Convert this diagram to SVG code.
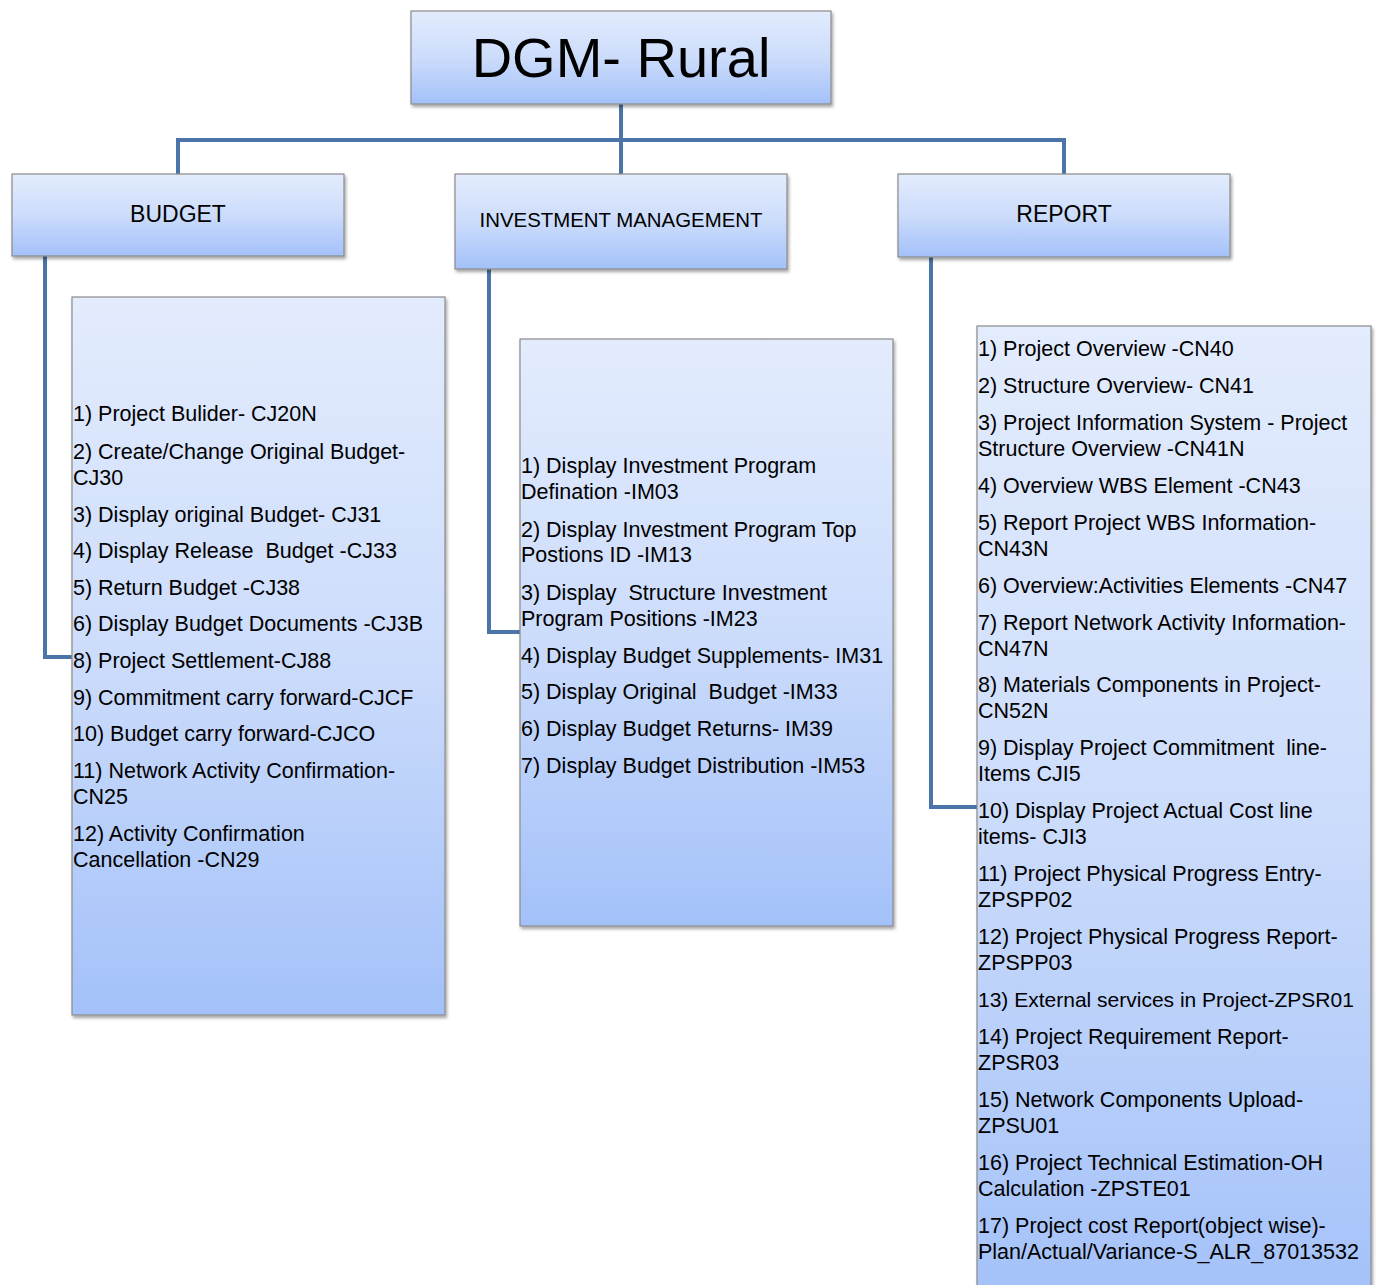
<svg xmlns="http://www.w3.org/2000/svg" width="1379" height="1285" viewBox="0 0 1379 1285">
<defs>
<linearGradient id="g" x1="0" y1="0" x2="0" y2="1">
<stop offset="0" stop-color="#e3ecfd"/>
<stop offset="0.5" stop-color="#ccdcfb"/>
<stop offset="1" stop-color="#a3c1f9"/>
</linearGradient>
<filter id="sh" x="-5%" y="-5%" width="110%" height="115%">
<feDropShadow dx="1.5" dy="2.5" stdDeviation="1.5" flood-color="#000" flood-opacity="0.35"/>
</filter>
</defs>
<style>
.box{fill:url(#g);stroke:#8a8a8a;stroke-width:1.2;filter:url(#sh)}
.t{font-family:"Liberation Sans",Arial,sans-serif;fill:#000}
.b{font-size:21.5px}
.h{font-size:23px;text-anchor:middle}
.c{fill:none;stroke:#4a74aa;stroke-width:4}
.p{white-space:pre}
</style>
<rect width="1379" height="1285" fill="#fff"/>
<g id="connectors">
<path class="c" d="M621 104V140M178 174V140H1064V174M621 140V174"/>
<path class="c" d="M45 256V657H72"/>
<path class="c" d="M489 269V632H520"/>
<path class="c" d="M931 257V807H977"/>
</g>
<g id="root">
<rect class="box" x="411" y="11" width="420" height="93"/>
<text class="t" x="621" y="77" font-size="56" text-anchor="middle">DGM- Rural</text>
</g>
<g id="budget">
<rect class="box" x="12" y="174" width="332" height="82"/>
<text class="t h" x="178" y="222">BUDGET</text>
</g>
<g id="investment">
<rect class="box" x="455" y="174" width="332" height="95"/>
<text class="t" x="621" y="227" font-size="20.4" text-anchor="middle">INVESTMENT MANAGEMENT</text>
</g>
<g id="report">
<rect class="box" x="898" y="174" width="332" height="83"/>
<text class="t h" x="1064" y="222">REPORT</text>
</g>
<g id="budget-list">
<rect class="box" x="72" y="297" width="373" height="718"/>
<text class="t b">
<tspan x="73" y="421">1) Project Bulider- CJ20N</tspan>
<tspan x="73" y="459">2) Create/Change Original Budget-</tspan>
<tspan x="73" y="485">CJ30</tspan>
<tspan x="73" y="522">3) Display original Budget- CJ31</tspan>
<tspan class="p" x="73" y="558" xml:space="preserve">4) Display Release  Budget -CJ33</tspan>
<tspan x="73" y="595">5) Return Budget -CJ38</tspan>
<tspan x="73" y="631">6) Display Budget Documents -CJ3B</tspan>
<tspan x="73" y="668">8) Project Settlement-CJ88</tspan>
<tspan x="73" y="705">9) Commitment carry forward-CJCF</tspan>
<tspan x="73" y="741">10) Budget carry forward-CJCO</tspan>
<tspan x="73" y="778">11) Network Activity Confirmation-</tspan>
<tspan x="73" y="804">CN25</tspan>
<tspan x="73" y="841">12) Activity Confirmation</tspan>
<tspan x="73" y="867">Cancellation -CN29</tspan>
</text>
</g>
<g id="investment-list">
<rect class="box" x="520" y="339" width="373" height="587"/>
<text class="t b">
<tspan x="521" y="473">1) Display Investment Program</tspan>
<tspan x="521" y="499">Defination -IM03</tspan>
<tspan x="521" y="537">2) Display Investment Program Top</tspan>
<tspan x="521" y="562">Postions ID -IM13</tspan>
<tspan class="p" x="521" y="600" xml:space="preserve">3) Display  Structure Investment</tspan>
<tspan x="521" y="626">Program Positions -IM23</tspan>
<tspan x="521" y="663">4) Display Budget Supplements- IM31</tspan>
<tspan class="p" x="521" y="699" xml:space="preserve">5) Display Original  Budget -IM33</tspan>
<tspan x="521" y="736">6) Display Budget Returns- IM39</tspan>
<tspan x="521" y="773">7) Display Budget Distribution -IM53</tspan>
</text>
</g>
<g id="report-list">
<rect class="box" x="977" y="326" width="394" height="980"/>
<text class="t b">
<tspan x="978" y="356">1) Project Overview -CN40</tspan>
<tspan x="978" y="393">2) Structure Overview- CN41</tspan>
<tspan x="978" y="430">3) Project Information System - Project</tspan>
<tspan x="978" y="456">Structure Overview -CN41N</tspan>
<tspan x="978" y="493">4) Overview WBS Element -CN43</tspan>
<tspan x="978" y="530">5) Report Project WBS Information-</tspan>
<tspan x="978" y="556">CN43N</tspan>
<tspan x="978" y="593">6) Overview:Activities Elements -CN47</tspan>
<tspan x="978" y="630">7) Report Network Activity Information-</tspan>
<tspan x="978" y="656">CN47N</tspan>
<tspan x="978" y="692">8) Materials Components in Project-</tspan>
<tspan x="978" y="718">CN52N</tspan>
<tspan class="p" x="978" y="755" xml:space="preserve">9) Display Project Commitment  line-</tspan>
<tspan x="978" y="781">Items CJI5</tspan>
<tspan x="978" y="818">10) Display Project Actual Cost line</tspan>
<tspan x="978" y="844">items- CJI3</tspan>
<tspan x="978" y="881">11) Project Physical Progress Entry-</tspan>
<tspan x="978" y="907">ZPSPP02</tspan>
<tspan x="978" y="944">12) Project Physical Progress Report-</tspan>
<tspan x="978" y="970">ZPSPP03</tspan>
<tspan x="978" y="1007" font-size="21">13) External services in Project-ZPSR01</tspan>
<tspan x="978" y="1044">14) Project Requirement Report-</tspan>
<tspan x="978" y="1070">ZPSR03</tspan>
<tspan x="978" y="1107">15) Network Components Upload-</tspan>
<tspan x="978" y="1133">ZPSU01</tspan>
<tspan x="978" y="1170">16) Project Technical Estimation-OH</tspan>
<tspan x="978" y="1196">Calculation -ZPSTE01</tspan>
<tspan x="978" y="1233">17) Project cost Report(object wise)-</tspan>
<tspan x="978" y="1259">Plan/Actual/Variance-S_ALR_87013532</tspan>
</text>
</g>
</svg>
